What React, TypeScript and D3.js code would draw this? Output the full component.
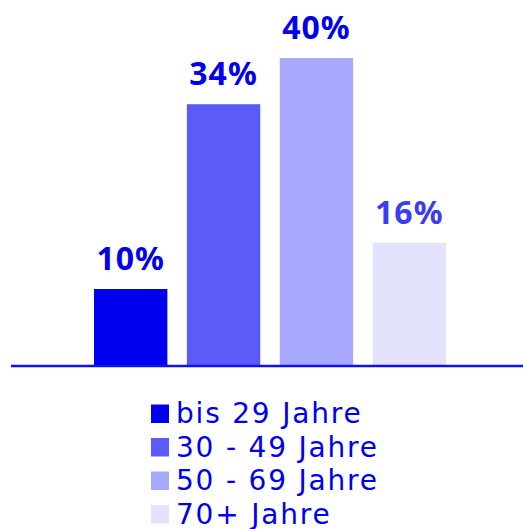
import React from "react";
import * as d3 from "d3";

const categories = ["bis 29 Jahre", "30 - 49 Jahre", "50 - 69 Jahre", "70+ Jahre"];
const values = [10, 34, 40, 16];
const valueLabels = ["10%", "34%", "40%", "16%"];
const barColors = ["#0000ee", "#5b5bfa", "#a8a8fd", "#e3e3fd"];
const labelColors = ["#0000ee", "#0000ee", "#0000ee", "#3c3cf2"];

const width = 523;
const height = 529;
const baseline = 366;

export default function App() {
  const x = d3.scaleBand().domain(categories).range([94, 446]).paddingInner(0.21).paddingOuter(0);
  const y = d3.scaleLinear().domain([0, 40]).range([baseline, 58]);

  return (
    <svg
      width={width}
      height={height}
      style={{ position: "absolute", left: 0, top: 0 }}
    >
      {categories.map((c, i) => (
        <g key={c}>
          <rect
            x={x(c)}
            y={y(values[i])}
            width={x.bandwidth()}
            height={baseline - y(values[i])}
            fill={barColors[i]}
          />
          <text
            x={(x(c) as number) + x.bandwidth() / 2}
            y={y(values[i]) - 19}
            textAnchor="middle"
            fontFamily="Noto Sans"
            fontWeight="bold"
            fontSize={32}
            letterSpacing={1}
            fill={labelColors[i]}
          >
            {valueLabels[i]}
          </text>
        </g>
      ))}
      <line x1={11} x2={width} y1={baseline} y2={baseline} stroke="#1010f0" strokeWidth={2.4} />
      {categories.map((c, i) => (
        <g key={"lg" + c} transform={`translate(151, ${423 + i * 33.5})`}>
          <rect x={0} y={-18.5} width={18} height={18.5} fill={barColors[i]} />
          <text
            x={25}
            y={0}
            fontFamily="DejaVu Sans"
            fontSize={28}
            letterSpacing={1.8}
            fill="#0000ee"
          >
            {c}
          </text>
        </g>
      ))}
    </svg>
  );
}
